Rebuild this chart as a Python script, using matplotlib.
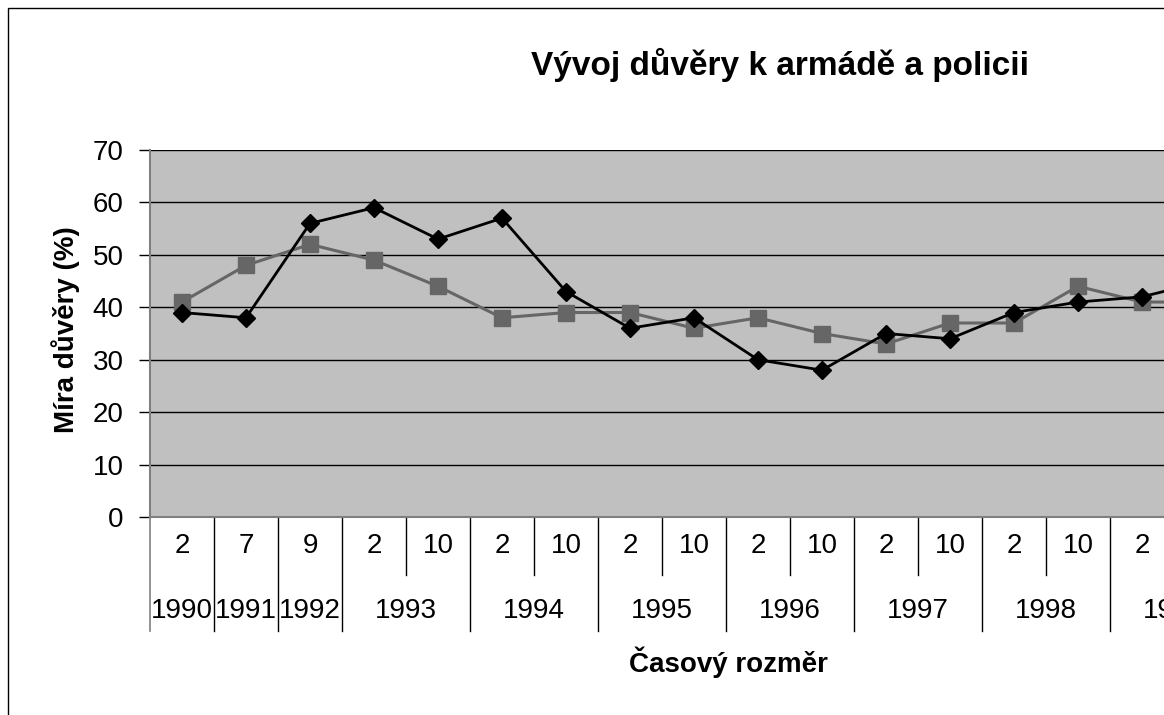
import matplotlib
matplotlib.use("Agg")
import matplotlib.pyplot as plt
from matplotlib.patches import Rectangle
from matplotlib.transforms import blended_transform_factory

plt.rcParams['font.family'] = ['Liberation Sans', 'DejaVu Sans']

# Data
months = ["2", "7", "9", "2", "10", "2", "10", "2", "10", "2", "10", "2", "10", "2", "10", "2", "10"]
years = ["1990", "1991", "1992", "1993", "1994", "1995", "1996", "1997", "1998", "1999"]
year_sizes = [1, 1, 1, 2, 2, 2, 2, 2, 2, 2]
armada = [39, 38, 56, 59, 53, 57, 43, 36, 38, 30, 28, 35, 34, 39, 41, 42, 45]
policie = [41, 48, 52, 49, 44, 38, 39, 39, 36, 38, 35, 33, 37, 37, 44, 41, 41]
yticks = [0, 10, 20, 30, 40, 50, 60, 70]

W, H = 1164, 715
fig = plt.figure(figsize=(W / 100, H / 100), dpi=100)
n = len(months)
left_px, top_px, bottom_px, cat_w = 150, 150, 517, 64
ax = fig.add_axes([left_px / W, 1 - bottom_px / H, n * cat_w / W, (bottom_px - top_px) / H])
ax.set_facecolor('#C0C0C0')

x = list(range(n))
ax.plot(x, policie, color='#666666', lw=2.2, marker='s', ms=11, mec='#666666', mfc='#666666', zorder=3)
ax.plot(x, armada, color='#000000', lw=2.0, marker='D', ms=9, mec='#000000', mfc='#000000', zorder=4)

ax.set_xlim(-0.5, n - 0.5)
ax.set_ylim(0, 70)
ax.set_yticks(yticks)
ax.yaxis.grid(True, color='#000000', lw=1)
ax.set_axisbelow(True)
for s in ['top', 'right']:
    ax.spines[s].set_visible(False)
ax.spines['left'].set_color('#808080')
ax.spines['left'].set_linewidth(1.5)
ax.spines['bottom'].set_color('#808080')
ax.spines['bottom'].set_linewidth(1.5)
ax.tick_params(axis='y', length=8, width=1, color='#000000', labelsize=20, pad=11)
ax.set_xticks([])

tr = blended_transform_factory(ax.transData, ax.transAxes)
axh = bottom_px - top_px
row1 = -(546 - bottom_px) / axh
row2 = -(611 - bottom_px) / axh
short_end = -(575 - bottom_px) / axh
long_end = -(631 - bottom_px) / axh

for i, m in enumerate(months):
    ax.text(i, row1, m, transform=tr, ha='center', va='center', fontsize=20, clip_on=False)

pos = -0.5
ax.plot([pos, pos], [0, long_end], transform=tr, color='#808080', lw=1.2, clip_on=False)
for yr, sz in zip(years, year_sizes):
    center = pos + sz / 2
    ax.text(center, row2, yr, transform=tr, ha='center', va='center', fontsize=20, clip_on=False)
    for k in range(1, sz):
        ax.plot([pos + k, pos + k], [0, short_end], transform=tr, color='#000000', lw=1, clip_on=False)
    pos += sz
    ax.plot([pos, pos], [0, long_end], transform=tr, color='#000000', lw=1, clip_on=False)

fig.text(780 / W, 1 - 65 / H, 'Vývoj důvěry k armádě a policii', ha='center', va='center',
         fontsize=24, fontweight='bold')
fig.text(728 / W, 1 - 662 / H, 'Časový rozměr', ha='center', va='center',
         fontsize=20, fontweight='bold')
fig.text(66 / W, 1 - 330 / H, 'Míra důvěry (%)', ha='center', va='center', rotation=90,
         fontsize=20, fontweight='bold')

fig.patches.append(Rectangle((8 / W, -0.2), 1.2, 1 - 8 / H + 0.2, transform=fig.transFigure,
                             fill=False, edgecolor='#000000', lw=1, clip_on=False))

fig.savefig('out.png', dpi=100)
